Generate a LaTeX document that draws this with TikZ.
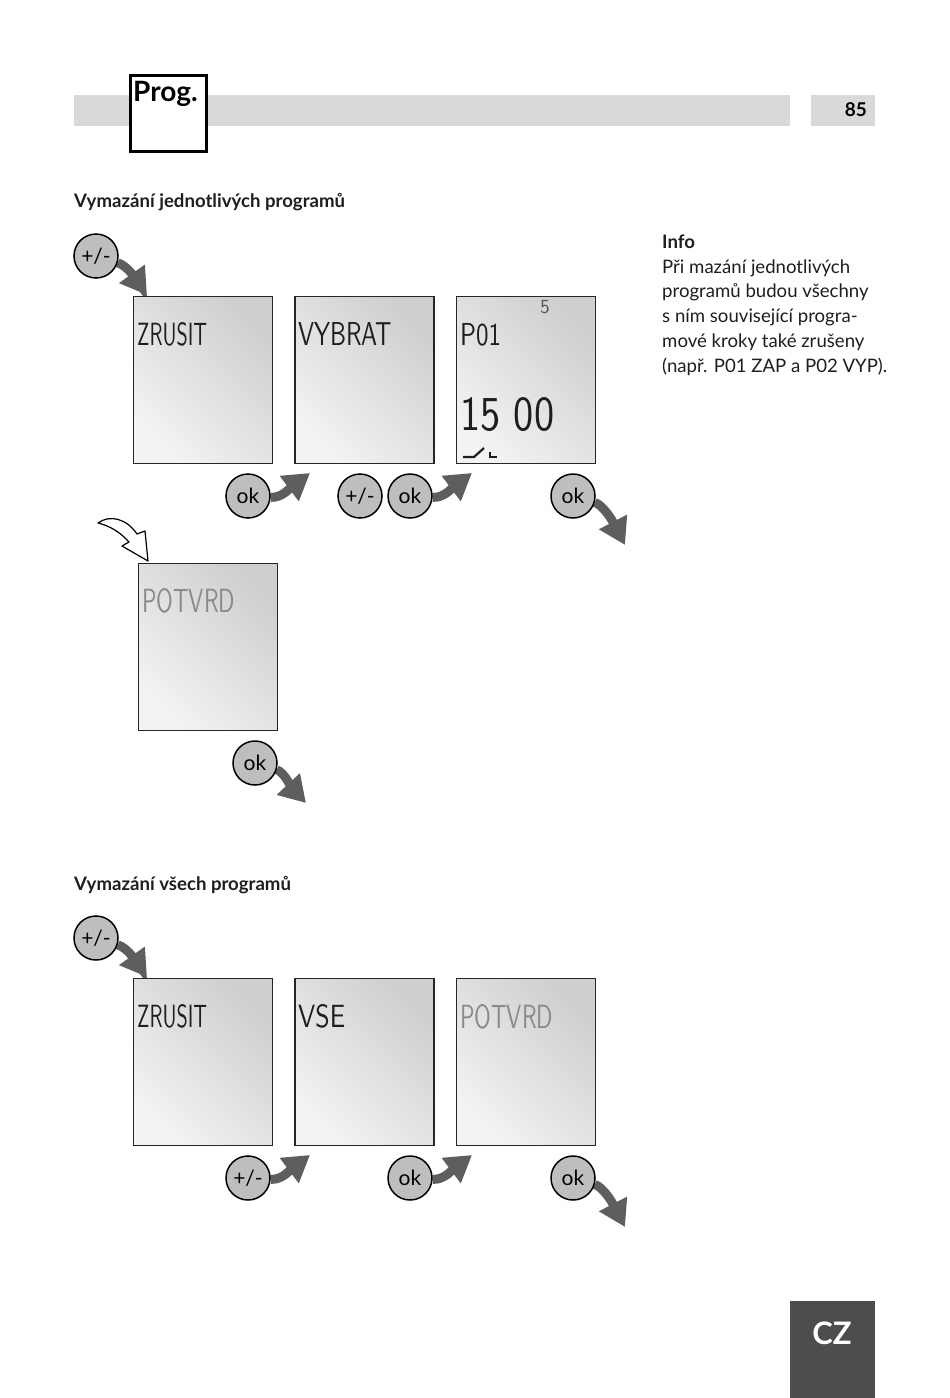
\documentclass[tikz,border=0pt]{standalone}
\usepackage{fontspec}
\setmainfont{Lato}
\usetikzlibrary{arrows.meta,positioning,backgrounds}
\definecolor{bargray}{HTML}{D9D9D9}
\definecolor{tabgray}{HTML}{4D4D4D}
\definecolor{keygray}{HTML}{BEBEBE}
\definecolor{pushgray}{HTML}{5E5E5E}
\definecolor{lcddark}{HTML}{CFCFCF}
\definecolor{lcdlight}{HTML}{F3F3F3}
\definecolor{inktext}{HTML}{1E1E1E}
\definecolor{faint}{HTML}{8A8A8A}
\newcommand{\lcd}[3]{\resizebox{#1}{#2}{\sffamily #3}}
\tikzset{
  screen/.style={rectangle,draw=black!85,line width=1.3pt,minimum width=139pt,minimum height=167pt,inner sep=0pt,top color=lcddark,bottom color=lcdlight,shading angle=-45},
  lcdtext/.style={inner sep=0pt,anchor=north west,text=inktext},
  btn/.style={circle,draw=black,line width=1.5pt,fill=keygray,minimum size=44pt,inner sep=0pt,font=\fontsize{21}{21}\selectfont},
  push/.style={-{Triangle[length=26pt,width=30pt]},line width=9pt,pushgray},
  heading/.style={anchor=west,inner sep=0pt,font=\fontsize{18.6}{22}\selectfont\bfseries,text=inktext}
}

\begin{document}
\begin{tikzpicture}[x=1pt,y=-1pt,node distance=21pt]
    \useasboundingbox (0,0) rectangle (950,1398);
    % header
    \fill[bargray] (74,95) rectangle (790,126);
    \fill[bargray] (811,95) rectangle (875,126);
    \node[anchor=east,inner sep=0pt,font=\fontsize{19}{19}\selectfont\bfseries] (page) at (867,110) {85};
    \node[draw,line width=3pt,fill=white,minimum size=76pt,inner sep=0pt,anchor=north west] (prog) at (128.5,73.5) {};
    \node[anchor=north west,inner sep=0pt,font=\fontsize{28}{28}\selectfont\bfseries] (progtxt) at (133,81) {Prog.};
    \fill[tabgray] (790,1301) rectangle (875,1398);
    \node[text=white,font=\fontsize{31}{31}\selectfont\bfseries] (lang) at (832,1333) {CZ};

    % single programs
    \node[heading] (headA) at (74,202) {Vymazání jednotlivých programů};
    \node[screen,anchor=north west] (zrusitA) at (133,296) {};
    \node[screen,right=of zrusitA] (vybrat) {};
    \node[screen,right=of vybrat] (pgm) {};
    \node[screen,anchor=north west] (potvrdA) at (138,563) {};
    \node[lcdtext] (zrusitAtxt) at (137,322) {\lcd{70pt}{23pt}{ZRUSIT}};
    \node[lcdtext] (vybrattxt) at (298,322) {\lcd{94pt}{23pt}{VYBRAT}};
    \node[lcdtext] (pgmtxt) at (460,323) {\lcd{41pt}{22pt}{P01}};
    \node[lcdtext] (timetxt) at (460,397) {\lcd{94pt}{33pt}{15\,\,00}};
    \node[text=black!65,inner sep=0pt,font=\fontsize{20}{20}\sffamily] (daytxt) at (545,307) {5};
    \draw[inktext,line width=2.2pt] (463,457) -- (474,457) -- (484,448);
    \draw[inktext,line width=2.2pt] (490,452) -- (490,457) -- (497,457);
    \node[lcdtext,text=faint] (potvrdAtxt) at (142,588) {\lcd{93pt}{24pt}{POTVRD}};

    \node[btn] (pmA) at (96,256) {+/-};
    \node[btn] (okA) at (248,496) {ok};
    \node[btn] (pmB) at (360,496) {+/-};
    \node[btn] (okB) at (410,496) {ok};
    \node[btn] (okC) at (573,496) {ok};
    \node[btn] (okD) at (255,763) {ok};
    \coordinate (inA) at (147,295);
    \coordinate (inB) at (310,473);
    \coordinate (inC) at (472,473);
    \coordinate (outA) at (625,545);
    \coordinate (outB) at (306,803);
    \begin{pgfonlayer}{background}
      \draw[push] (pmA) .. controls (128,266) and (137,281) .. (inA);
      \draw[push] (okA) .. controls (282,498) and (290,488) .. (inB);
      \draw[push] (okB) .. controls (444,498) and (452,488) .. (inC);
      \draw[push] (okC) .. controls (603,505) and (612,520) .. (outA);
      \draw[push] (okD) .. controls (284,772) and (292,788) .. (outB);
    \end{pgfonlayer}
    % hollow arrow back to confirm
    \draw[line width=1.2pt,fill=white,line join=round] (98,523) .. controls (110,514) and (127,519) .. (137,534)
      -- (145,531) -- (148,561) -- (122,546) -- (129,542) .. controls (120,532) and (110,526) .. cycle;

    \node[anchor=north west,inner sep=0pt,align=left,text=inktext,font=\fontsize{18.6}{24.8}\selectfont] (info) at (662,234.5)
      {\textbf{Info}\\Při mazání jednotlivých\\programů budou všechny\\s ním související progra-\\mové kroky také zrušeny\\(např. P01 ZAP a P02 VYP).};

    % all programs
    \node[heading] (headB) at (74,885) {Vymazání všech programů};
    \node[screen,anchor=north west] (zrusitB) at (133,978) {};
    \node[screen,right=of zrusitB] (vse) {};
    \node[screen,right=of vse] (potvrdB) {};
    \node[lcdtext] (zrusitBtxt) at (137,1004) {\lcd{70pt}{23pt}{ZRUSIT}};
    \node[lcdtext] (vsetxt) at (298,1004) {\lcd{47pt}{23pt}{VSE}};
    \node[lcdtext,text=faint] (potvrdBtxt) at (460,1004) {\lcd{93pt}{24pt}{POTVRD}};

    \node[btn] (pmC) at (96,938) {+/-};
    \node[btn] (pmD) at (248,1178) {+/-};
    \node[btn] (okE) at (410,1178) {ok};
    \node[btn] (okF) at (573,1178) {ok};
    \coordinate (inD) at (147,977);
    \coordinate (inE) at (310,1155);
    \coordinate (inF) at (472,1155);
    \coordinate (outC) at (625,1227);
    \begin{pgfonlayer}{background}
      \draw[push] (pmC) .. controls (128,948) and (137,963) .. (inD);
      \draw[push] (pmD) .. controls (282,1180) and (290,1170) .. (inE);
      \draw[push] (okE) .. controls (444,1180) and (452,1170) .. (inF);
      \draw[push] (okF) .. controls (603,1187) and (612,1202) .. (outC);
    \end{pgfonlayer}
\end{tikzpicture}
\end{document}
